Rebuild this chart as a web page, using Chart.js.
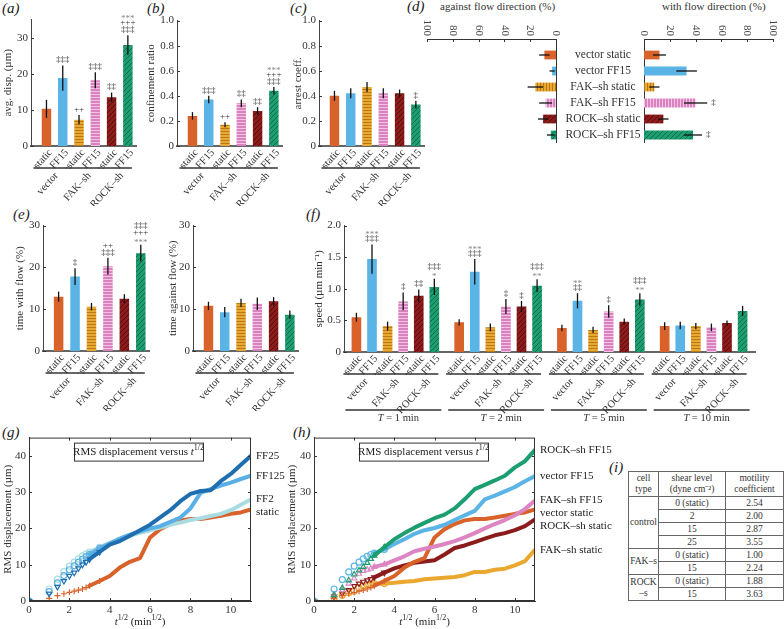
<!DOCTYPE html>
<html>
<head>
<meta charset="utf-8">
<title>Cell migration under flow</title>
<script src="https://cdn.jsdelivr.net/npm/chart.js@4.4.1/dist/chart.umd.min.js"></script>
<style>
  body { margin: 0; width: 784px; height: 629px; position: relative; overflow: hidden; background: #fff;
         font-family: 'Liberation Serif', serif; color: #333; }
  canvas { position: absolute; }
  .tag { position: absolute; font-style: italic; font-size: 15px; color: #222; }
  .head { position: absolute; font-size: 11px; color: #333; white-space: nowrap; }
  #tbl { position: absolute; left: 628px; top: 471px; width: 155px; border-collapse: collapse;
         font-size: 9.5px; color: #333; table-layout: fixed; }
  #tbl td { border: 1px solid #666; text-align: center; padding: 0; height: 12px; line-height: 11px; white-space: pre-line; }
</style>
</head>
<body>
<div class="tag" style="left:2px;top:0px">(a)</div>
<div class="tag" style="left:147px;top:0px">(b)</div>
<div class="tag" style="left:290px;top:0px">(c)</div>
<div class="tag" style="left:407px;top:-2px">(d)</div>
<div class="tag" style="left:13px;top:206px">(e)</div>
<div class="tag" style="left:306px;top:206px">(f)</div>
<div class="tag" style="left:2px;top:424px">(g)</div>
<div class="tag" style="left:293px;top:424px">(h)</div>
<div class="tag" style="left:609px;top:459px">(i)</div>
<div class="head" style="left:440px;top:0px">against flow direction (%)</div>
<div class="head" style="left:662px;top:0px">with flow direction (%)</div>
<table id="tbl"></table>
<script>
// ---- data ----
const cellLines = ['vector', 'FAK–sh', 'ROCK–sh'];
const conditions = ['static', 'FF15', 'static', 'FF15', 'static', 'FF15'];
const conditionNames = ['vector static', 'vector FF15', 'FAK–sh static', 'FAK–sh FF15', 'ROCK–sh static', 'ROCK–sh FF15'];

// (a) average displacement
const dispMean = [10.3, 18.8, 7.3, 18.2, 13.5, 28.0];
const dispErr = [2.5, 3.5, 1.3, 2.2, 1.3, 2.7];
const dispSig = [[], ['‡‡‡'], ['++'], ['‡‡‡'], ['‡‡'], ['***', '+++', '‡‡‡']];

// (b) confinement ratio
const confMean = [0.24, 0.37, 0.17, 0.34, 0.28, 0.44];
const confErr = [0.03, 0.03, 0.02, 0.03, 0.03, 0.03];
const confSig = [[], ['‡‡‡'], ['++'], ['‡‡'], ['‡‡'], ['***', '+++', '‡‡‡']];

// (c) arrest coefficient
const arrestMean = [0.40, 0.42, 0.47, 0.42, 0.42, 0.33];
const arrestErr = [0.04, 0.04, 0.04, 0.04, 0.03, 0.03];
const arrestSig = [[], [], [], [], [], ['‡']];

// (d) direction of migration (%)
const againstFlow = [9, 3, 16, 8, 10, 4];
const againstErr = [4, 2, 6, 5, 4, 3];
const withFlow = [12, 33, 8, 40, 15, 38];
const withErr = [5, 8, 4, 9, 4, 7];
const withSig = [[], [], [], ['‡'], [], ['‡']];

// (e) time with / against flow (%)
const timeWithMean = [13.0, 17.8, 10.6, 20.3, 12.5, 23.4];
const timeWithErr = [1.2, 2.0, 0.9, 2.0, 1.1, 2.0];
const timeWithSig = [[], ['‡'], [], ['++', '‡‡‡'], [], ['‡‡‡', '+++', '***']];
const timeAgainstMean = [10.8, 9.3, 11.5, 11.3, 11.9, 8.7];
const timeAgainstErr = [1.0, 1.2, 1.0, 1.5, 1.0, 1.0];

// (f) speed, rows = condition, columns = sampling interval T
const speedIntervals = [1, 2, 5, 10];
const speedMean = [
  [0.55, 0.47, 0.38, 0.41],
  [1.47, 1.27, 0.81, 0.42],
  [0.41, 0.39, 0.35, 0.41],
  [0.80, 0.72, 0.64, 0.39],
  [0.89, 0.72, 0.48, 0.46],
  [1.03, 1.05, 0.83, 0.65]
];
const speedErr = [
  [0.07, 0.05, 0.05, 0.06],
  [0.23, 0.20, 0.12, 0.06],
  [0.07, 0.06, 0.05, 0.05],
  [0.14, 0.12, 0.10, 0.06],
  [0.10, 0.09, 0.05, 0.04],
  [0.13, 0.10, 0.10, 0.08]
];
const speedSig = [
  [[], [], [], []],
  [['***', '‡‡‡'], ['***', '‡‡‡'], ['**', '‡‡'], []],
  [[], [], [], []],
  [['‡'], ['‡'], ['‡'], []],
  [['‡‡'], ['‡'], [], []],
  [['‡‡‡', '*'], ['‡‡‡', '**'], ['‡‡‡', '**'], []]
];

// (g), (h) RMS displacement (µm) against t^1/2 (min^1/2)
const rootT = [0, 1, 1.41, 1.73, 2, 2.24, 2.45, 2.65, 2.83, 3, 3.5, 4, 4.5, 5, 5.5, 6, 6.5, 7, 7.5, 8, 8.5, 9, 9.5, 10, 10.5, 11];
const rmsStatic = [0, 0.7, 1.5, 2.0, 2.4, 2.7, 3.0, 3.3, 3.7, 4.2, 5.5, 6.9, 9.2, 10.8, 11.8, 17.5, 19.8, 21.2, 22.2, 22.6, 22.6, 23.0, 23.5, 24.0, 24.4, 25.2];
const rmsFF2 = [0, 3.3, 6.0, 8.1, 9.6, 10.7, 11.6, 12.4, 13.0, 13.5, 14.8, 16.0, 17.0, 18.0, 18.8, 19.5, 20.2, 21.0, 21.6, 22.3, 22.8, 23.4, 24.0, 25.0, 26.5, 28.0];
const rmsFF125 = [0, 2.6, 5.0, 7.0, 8.6, 9.7, 10.7, 11.5, 12.2, 12.8, 14.5, 15.8, 17.2, 18.3, 19.2, 20.0, 20.6, 21.8, 23.0, 25.5, 29.8, 30.8, 31.8, 32.6, 33.6, 34.5];
const rmsFF25 = [0, 2.0, 3.9, 5.5, 6.9, 7.8, 9.0, 10.0, 10.7, 11.5, 13.5, 15.5, 16.5, 18.0, 19.5, 21.0, 23.0, 25.0, 27.5, 29.5, 30.3, 30.5, 33.0, 35.0, 37.5, 40.0];
const rmsVectorFF15 = [0, 3.3, 5.9, 8.0, 9.6, 10.7, 11.6, 12.3, 12.8, 13.2, 14.2, 15.7, 17.0, 18.5, 19.5, 20.1, 21.0, 22.3, 23.6, 24.8, 28.0, 29.0, 30.2, 31.4, 33.0, 34.4];
const rmsFakStatic = [0, 0.9, 1.6, 2.3, 2.7, 3.6, 4.1, 4.4, 4.6, 4.8, 4.8, 5.0, 5.3, 5.5, 6.0, 6.2, 6.4, 6.6, 7.1, 8.0, 8.0, 8.6, 8.9, 9.8, 11.0, 14.1];
const rmsFakFF15 = [0, 1.8, 3.0, 4.8, 6.2, 7.5, 8.3, 8.6, 8.9, 9.4, 10.1, 11.2, 12.3, 13.7, 14.4, 15.0, 15.7, 16.5, 17.5, 18.7, 20.0, 21.2, 22.3, 23.6, 25.3, 27.7];
const rmsRockStatic = [0, 1.2, 2.1, 3.0, 4.1, 4.8, 5.3, 5.7, 6.0, 6.5, 7.8, 9.0, 9.8, 10.5, 10.9, 11.2, 12.8, 14.6, 15.3, 16.2, 17.2, 18.1, 18.7, 19.5, 20.6, 22.5];
const rmsRockFF15 = [0, 1.6, 3.6, 5.7, 7.3, 8.4, 9.4, 10.5, 11.6, 12.5, 14.8, 17.0, 18.7, 20.2, 21.5, 22.8, 23.8, 25.5, 28.0, 30.8, 32.0, 33.2, 34.5, 36.8, 38.5, 41.6];

// (i) motility coefficients
const tableHead = ['cell\ntype', 'shear level\n(dyne cm⁻²)', 'motility\ncoefficient'];
const cellTypes = ['control', 'FAK–s', 'ROCK\n–s'];
const cellTypeRows = [4, 2, 2];
const shearLevels = ['0 (static)', '2', '15', '25', '0 (static)', '15', '0 (static)', '15'];
const motility = ['2.54', '2.00', '2.87', '3.55', '1.00', '2.24', '1.88', '3.63'];

// ---- styling helpers ----
const SERIF = '"Liberation Serif", serif';
Chart.defaults.font.family = SERIF;
Chart.defaults.font.size = 11;
Chart.defaults.color = '#333';
Chart.defaults.animation = false;
Chart.defaults.plugins.legend.display = false;
Chart.defaults.plugins.tooltip.enabled = false;

function hatch(bg, fg, kind) {
  const c = document.createElement('canvas');
  const s = kind === 'd' ? 5 : 3;
  c.width = s; c.height = s;
  const g = c.getContext('2d');
  g.fillStyle = bg; g.fillRect(0, 0, s, s);
  g.strokeStyle = fg; g.lineWidth = 1;
  g.beginPath();
  if (kind === 'h') { g.moveTo(0, 0.5); g.lineTo(s, 0.5); }
  else if (kind === 'v') { g.moveTo(0.5, 0); g.lineTo(0.5, s); }
  else { g.moveTo(-1, s + 1); g.lineTo(s + 1, -1); g.moveTo(-1, 1); g.lineTo(1, -1); g.moveTo(s - 1, s + 1); g.lineTo(s + 1, s - 1); }
  g.stroke();
  return g.createPattern(c, 'repeat');
}

const barFill = [
  '#d9622b', '#5ab4e6',
  hatch('#eaa830', '#b87a18', 'h'),
  hatch('#d982bf', '#f3c3e3', 'h'),
  hatch('#8c1b1b', '#5a0b0b', 'd'),
  hatch('#1c9e70', '#0d6c4a', 'd')
];
const flowFill = [
  '#d9622b', '#5ab4e6',
  hatch('#eaa830', '#b87a18', 'v'),
  hatch('#d982bf', '#f3c3e3', 'v'),
  hatch('#8c1b1b', '#5a0b0b', 'd'),
  hatch('#1c9e70', '#0d6c4a', 'd')
];

function canvasAt(left, top, w, h) {
  const cv = document.createElement('canvas');
  cv.width = w; cv.height = h;
  cv.style.left = left + 'px'; cv.style.top = top + 'px';
  document.body.appendChild(cv);
  return cv;
}

function drawRich(c, parts, x, y, align) {
  let w = 0;
  parts.forEach(p => { c.font = p.f; w += c.measureText(p.t).width; });
  let cx = align === 'center' ? x - w / 2 : x;
  c.textAlign = 'left'; c.textBaseline = 'middle';
  parts.forEach(p => { c.font = p.f; c.fillText(p.t, cx, y + (p.dy || 0)); cx += c.measureText(p.t).width; });
}

function rotText(c, text, x, y) {
  c.save();
  c.translate(x, y);
  c.rotate(-0.83);
  c.textAlign = 'right'; c.textBaseline = 'middle';
  c.fillText(text, 0, 0);
  c.restore();
}

// ---- plugins ----
const errorBars = {
  id: 'errorBars',
  afterDatasetsDraw(chart) {
    const c = chart.ctx;
    const horiz = chart.options.indexAxis === 'y';
    const vs = horiz ? chart.scales.x : chart.scales.y;
    chart.data.datasets.forEach((ds, di) => {
      if (!ds.errs) return;
      chart.getDatasetMeta(di).data.forEach((bar, i) => {
        const raw = ds.data[i];
        const v = typeof raw === 'object' ? (horiz ? raw.x : raw.y) : raw;
        const lo = vs.getPixelForValue(v - ds.errs[i]);
        const hi = vs.getPixelForValue(v + ds.errs[i]);
        c.save();
        c.strokeStyle = '#111'; c.lineWidth = 1.3;
        c.beginPath();
        if (horiz) { c.moveTo(lo, bar.y); c.lineTo(hi, bar.y); }
        else { c.moveTo(bar.x, lo); c.lineTo(bar.x, hi); }
        c.stroke();
        const sig = (ds.sig && ds.sig[i]) || [];
        c.font = '9px ' + SERIF;
        if (horiz) {
          c.textAlign = 'left'; c.textBaseline = 'middle'; c.fillStyle = '#333';
          sig.forEach(s => c.fillText(s, hi + 4, bar.y));
        } else {
          c.textAlign = 'center'; c.textBaseline = 'bottom';
          let y = hi - 1;
          for (let k = sig.length - 1; k >= 0; k--) {
            c.fillStyle = sig[k].includes('*') ? '#888' : '#333';
            c.fillText(sig[k], bar.x, sig[k].includes('*') ? y + 3 : y);
            y -= 7;
          }
        }
        c.restore();
      });
    });
  }
};

const inTicks = {
  id: 'inTicks',
  afterDraw(chart) {
    const c = chart.ctx, a = chart.chartArea;
    const box = chart.options.plugins.inTicks && chart.options.plugins.inTicks.box;
    c.save();
    c.strokeStyle = '#333'; c.lineWidth = 1;
    if (box) c.strokeRect(a.left + 0.5, a.top + 0.5, a.width - 1, a.height - 1);
    Object.values(chart.scales).forEach(s => {
      if (!s.options.ticks.display) return;
      s.ticks.forEach((t, i) => {
        const p = Math.round(s.getPixelForTick(i)) + 0.5;
        c.beginPath();
        if (s.isHorizontal()) {
          const top = s.position === 'top';
          const y0 = top ? a.top : a.bottom;
          c.moveTo(p, y0); c.lineTo(p, y0 + (top ? 3 : -3));
          if (box) { c.moveTo(p, a.top); c.lineTo(p, a.top + 3); }
        } else {
          const right = s.position === 'right';
          const x0 = right ? a.right : a.left;
          c.moveTo(x0, p); c.lineTo(x0 + (right ? -3 : 3), p);
          if (box) { c.moveTo(a.right, p); c.lineTo(a.right - 3, p); }
        }
        c.stroke();
      });
    });
    c.restore();
  }
};

// tick labels of (d), turned clockwise so they read downwards
const downLabels = {
  id: 'downLabels',
  afterDraw(chart) {
    const c = chart.ctx, s = chart.scales.x, top = chart.chartArea.top;
    c.save();
    c.fillStyle = '#444'; c.font = '11px ' + SERIF;
    s.ticks.forEach((t, i) => {
      c.save();
      c.translate(s.getPixelForTick(i), top - 3);
      c.rotate(Math.PI / 2);
      c.textAlign = 'right'; c.textBaseline = 'middle';
      c.fillText(String(t.value), 0, 0);
      c.restore();
    });
    c.restore();
  }
};

const catLabels = {
  id: 'catLabels',
  afterDraw(chart) {
    const opt = chart.options.plugins.catLabels;
    if (!opt) return;
    const c = chart.ctx, bottom = chart.chartArea.bottom;
    const bars = [];
    chart.data.datasets.forEach((ds, di) => {
      chart.getDatasetMeta(di).data.forEach(b => bars.push({ x: b.x }));
    });
    bars.sort((p, q) => p.x - q.x);
    c.save();
    c.fillStyle = '#333'; c.strokeStyle = '#333';
    c.font = '10.5px ' + SERIF;
    bars.forEach((b, k) => rotText(c, conditions[k % 6], b.x + 4, bottom + 5));
    const lineY = bottom + 22;
    c.lineWidth = 1.5;
    for (let g = 0; g < bars.length / 2; g++) {
      const p = bars[2 * g], q = bars[2 * g + 1];
      c.beginPath(); c.moveTo(p.x - 13, lineY); c.lineTo(q.x + 4, lineY); c.stroke();
      rotText(c, cellLines[g % 3], (p.x + q.x) / 2 + 2, lineY + 6);
    }
    if (opt.super) {
      const lineY2 = bottom + 58;
      opt.super.forEach((n, s) => {
        const first = bars[s * 6], last = bars[s * 6 + 5];
        c.beginPath(); c.moveTo(first.x - 11, lineY2); c.lineTo(last.x + 7, lineY2); c.stroke();
        drawRich(c, [{ t: 'T', f: 'italic 10.5px ' + SERIF }, { t: ' = ' + n + ' min', f: '10.5px ' + SERIF }],
          (first.x + last.x) / 2 + 3, lineY2 + 8, 'center');
      });
    }
    c.restore();
  }
};

const rowNames = {
  id: 'rowNames',
  afterDraw(chart) {
    const c = chart.ctx, a = chart.chartArea;
    c.save();
    c.fillStyle = '#333'; c.font = '11.5px ' + SERIF;
    c.textAlign = 'center'; c.textBaseline = 'middle';
    chart.getDatasetMeta(0).data.forEach((b, i) => c.fillText(conditionNames[i], a.left - 41, b.y));
    c.restore();
  }
};

const rmsDecor = {
  id: 'rmsDecor',
  afterDraw(chart) {
    const c = chart.ctx, a = chart.chartArea;
    c.save();
    c.strokeStyle = '#333'; c.lineWidth = 1;
    c.fillStyle = '#fff';
    c.fillRect(a.left + 45, a.top + 5, 129, 18);
    c.strokeRect(a.left + 45.5, a.top + 5.5, 129, 18);
    c.fillStyle = '#222';
    drawRich(c, [
      { t: 'RMS displacement versus ', f: '11px ' + SERIF },
      { t: 't', f: 'italic 11px ' + SERIF },
      { t: '1/2', f: '8px ' + SERIF, dy: -4 }
    ], a.left + 45 + 64.5, a.top + 14.5, 'center');
    drawRich(c, [
      { t: 't', f: 'italic 11px ' + SERIF },
      { t: '1/2', f: '8px ' + SERIF, dy: -4 },
      { t: ' (min', f: '11px ' + SERIF },
      { t: '1/2', f: '8px ' + SERIF, dy: -4 },
      { t: ')', f: '11px ' + SERIF }
    ], (a.left + a.right) / 2, a.bottom + 21, 'center');
    const items = chart.data.datasets.map((ds, i) => {
      const pts = chart.getDatasetMeta(i).data;
      return { y: pts[pts.length - 1].y, t: ds.label };
    }).sort((p, q) => p.y - q.y);
    let prev = -1e9;
    c.font = '11px ' + SERIF; c.textAlign = 'left'; c.textBaseline = 'middle';
    items.forEach(it => {
      const y = Math.max(it.y, prev + 13);
      c.fillText(it.t, a.right + 5, y);
      prev = y;
    });
    c.restore();
  }
};

// ---- chart builders ----
function yAxis(max, step, title, width, fmt) {
  return {
    min: 0, max,
    ticks: { stepSize: step, includeBounds: false, padding: 3, color: '#333', callback: fmt || (v => v) },
    grid: { display: false, drawTicks: false },
    border: { color: '#444', width: 1 },
    title: { display: !!title, text: title, color: '#333', padding: { top: 2, bottom: 0 }, font: { size: 11 } },
    afterFit: s => { s.width = width; }
  };
}
const oneDecimal = v => (v === 0 ? '0' : v.toFixed(1));

function barPanel(box, means, errs, sig, yMax, yStep, yTitle, fmt) {
  const cv = canvasAt(box.left, box.top, box.w, box.h);
  return new Chart(cv, {
    type: 'bar',
    data: {
      datasets: [{
        data: means.map((v, i) => ({ x: i + 1, y: v })), errs, sig,
        backgroundColor: barFill, barPercentage: 0.58, categoryPercentage: 1
      }]
    },
    options: {
      responsive: false,
      layout: { padding: { top: 8, right: 4, left: 0, bottom: 0 } },
      plugins: { catLabels: {} },
      scales: {
        x: {
          type: 'linear', min: 0.05, max: 6.5, offset: false,
          ticks: { display: false }, grid: { display: false, drawTicks: false },
          border: { color: '#666', width: 2 }, afterFit: s => { s.height = 60; }
        },
        y: yAxis(yMax, yStep, yTitle, box.yw, fmt)
      }
    },
    plugins: [errorBars, inTicks, catLabels]
  });
}

function flowPanel(box, values, errs, sig, reverse) {
  const cv = canvasAt(box.left, box.top, box.w, box.h);
  return new Chart(cv, {
    type: 'bar',
    data: {
      datasets: [{
        data: values.map((v, i) => ({ x: v, y: i + 1 })), errs, sig,
        backgroundColor: flowFill, barPercentage: 0.55, categoryPercentage: 1
      }]
    },
    options: {
      indexAxis: 'y',
      responsive: false,
      layout: { padding: { top: 0, bottom: 0, left: box.padL, right: 8 } },
      scales: {
        x: {
          type: 'linear', position: 'top', reverse, min: 0, max: 100,
          ticks: { stepSize: 20, minRotation: 90, maxRotation: 90, padding: 2, color: 'rgba(0,0,0,0)' },
          grid: { display: false, drawTicks: false },
          border: { color: '#333', width: 1 },
          afterFit: s => { s.height = 25; s.paddingLeft = 0; s.paddingRight = 0; }
        },
        y: {
          type: 'linear', position: reverse ? 'right' : 'left', reverse: true, min: 0, max: 6.5, offset: false,
          ticks: { display: false }, grid: { display: false, drawTicks: false },
          border: { color: '#333', width: 1 }, afterFit: s => { s.width = 1; }
        }
      }
    },
    plugins: reverse ? [errorBars, inTicks, downLabels] : [errorBars, inTicks, downLabels, rowNames]
  });
}

function rmsPanel(box, series) {
  const cv = canvasAt(box.left, box.top, box.w, box.h);
  return new Chart(cv, {
    type: 'line',
    data: {
      datasets: series.map(s => ({
        label: s.name,
        data: rootT.map((x, i) => ({ x, y: s.values[i] })),
        borderColor: s.color, backgroundColor: 'rgba(0,0,0,0)',
        borderWidth: 4, borderCapStyle: 'round', borderJoinStyle: 'round', tension: 0,
        segment: { borderColor: ctx => (ctx.p0.parsed.x < 2.9 ? 'rgba(0,0,0,0)' : undefined) },
        pointStyle: s.marker, rotation: s.rot || 0,
        pointRadius: ctx => (ctx.raw && ctx.raw.x <= 3.6 ? 3 : 0),
        pointBorderColor: s.color, pointBackgroundColor: 'rgba(255,255,255,0)', pointBorderWidth: 1.2
      }))
    },
    options: {
      responsive: false,
      layout: { padding: { top: 8, right: box.padR, left: 0, bottom: 0 } },
      plugins: { inTicks: { box: true } },
      scales: {
        x: {
          type: 'linear', min: 0, max: 11,
          ticks: { stepSize: 2, includeBounds: false, padding: 3, color: '#333' },
          grid: { display: false, drawTicks: false },
          border: { color: '#333', width: 1 }, afterFit: s => { s.height = 28; }
        },
        y: yAxis(45, 10, 'RMS displacement (µm)', box.yw)
      }
    },
    plugins: [inTicks, rmsDecor]
  });
}

// ---- panels ----
barPanel({ left: 0, top: 10, w: 140, h: 196, yw: 31 }, dispMean, dispErr, dispSig, 35, 10, 'avg. disp. (µm)');
barPanel({ left: 143, top: 11, w: 143, h: 195, yw: 34 }, confMean, confErr, confSig, 1, 0.2, 'confinement ratio', oneDecimal);
barPanel({ left: 290, top: 11, w: 138, h: 195, yw: 29 }, arrestMean, arrestErr, arrestSig, 1, 0.2, 'arrest coeff.', oneDecimal);

flowPanel({ left: 417, top: 14, w: 148, h: 129, padL: 10 }, againstFlow, againstErr, null, true);
flowPanel({ left: 560, top: 14, w: 221, h: 129, padL: 83 }, withFlow, withErr, withSig, false);

barPanel({ left: 12, top: 216, w: 141, h: 195, yw: 31 }, timeWithMean, timeWithErr, timeWithSig, 30, 10, 'time with flow (%)');
barPanel({ left: 165, top: 216, w: 137, h: 195, yw: 28 }, timeAgainstMean, timeAgainstErr, null, 30, 10, 'time against flow (%)');

new Chart(canvasAt(311, 216, 448, 211), {
  type: 'bar',
  data: {
    labels: speedIntervals.map(n => 'T = ' + n + ' min'),
    datasets: conditionNames.map((name, k) => ({
      label: name, data: speedMean[k], errs: speedErr[k], sig: speedSig[k],
      backgroundColor: barFill[k], barPercentage: 0.62, categoryPercentage: 0.91
    }))
  },
  options: {
    responsive: false,
    layout: { padding: { top: 8, right: 4, left: 0, bottom: 0 } },
    plugins: { catLabels: { super: speedIntervals } },
    scales: {
      x: {
        ticks: { display: false }, grid: { display: false, drawTicks: false },
        border: { color: '#666', width: 2 }, afterFit: s => { s.height = 75; }
      },
      y: yAxis(2, 0.5, 'speed (µm min⁻¹)', 33, oneDecimal)
    }
  },
  plugins: [errorBars, inTicks, catLabels]
});

rmsPanel({ left: 0, top: 428, w: 286, h: 201, yw: 29, padR: 35 }, [
  { name: 'FF25', values: rmsFF25, color: '#1f6fb0', marker: 'triangle', rot: 180 },
  { name: 'FF125', values: rmsFF125, color: '#5ab0e6', marker: 'circle' },
  { name: 'FF2', values: rmsFF2, color: '#a8dce0', marker: 'circle' },
  { name: 'static', values: rmsStatic, color: '#d9622b', marker: 'cross' }
]);

rmsPanel({ left: 284, top: 428, w: 351, h: 201, yw: 30, padR: 100 }, [
  { name: 'ROCK–sh FF15', values: rmsRockFF15, color: '#1c9e70', marker: 'triangle' },
  { name: 'vector FF15', values: rmsVectorFF15, color: '#5ab4e6', marker: 'circle' },
  { name: 'FAK–sh FF15', values: rmsFakFF15, color: '#dc85c2', marker: 'triangle' },
  { name: 'vector static', values: rmsStatic, color: '#d9622b', marker: 'cross' },
  { name: 'ROCK–sh static', values: rmsRockStatic, color: '#8c1b1b', marker: 'triangle', rot: 180 },
  { name: 'FAK–sh static', values: rmsFakStatic, color: '#eaa830', marker: 'circle' }
]);

// ---- table (i) ----
(function buildTable() {
  const t = document.getElementById('tbl');
  const cols = document.createElement('colgroup');
  [30, 67, 58].forEach(w => { const col = document.createElement('col'); col.style.width = w + 'px'; cols.appendChild(col); });
  t.appendChild(cols);
  const hr = t.insertRow();
  tableHead.forEach(h => { const td = hr.insertCell(); td.textContent = h; td.style.height = '24px'; });
  let r = 0;
  cellTypes.forEach((ct, g) => {
    for (let k = 0; k < cellTypeRows[g]; k++, r++) {
      const row = t.insertRow();
      if (k === 0) { const td = row.insertCell(); td.textContent = ct; td.rowSpan = cellTypeRows[g]; }
      row.insertCell().textContent = shearLevels[r];
      row.insertCell().textContent = motility[r];
    }
  });
})();
</script>
</body>
</html>
